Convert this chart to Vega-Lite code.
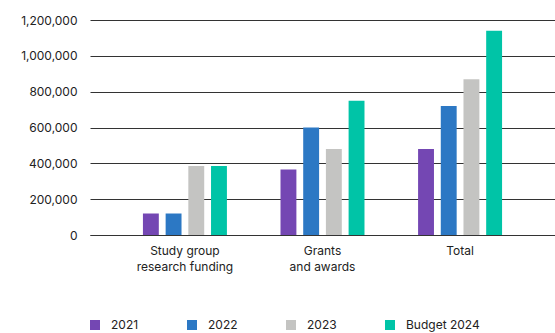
{
  "$schema": "https://vega.github.io/schema/vega-lite/v6.json",
  "width": 465,
  "height": 215,
  "autosize": {"type": "none"},
  "padding": {"left": 90, "top": 20, "right": 0, "bottom": 98},
  "background": "white",
  "config": {
    "font": "Inter",
    "view": {"stroke": null},
    "axis": {"labelFont": "Inter", "labelColor": "#222", "labelFontSize": 12}
  },
  "data": {
    "values": [
      {"category": "Study group research funding", "series": "2021", "value": 120000},
      {"category": "Study group research funding", "series": "2022", "value": 120000},
      {"category": "Study group research funding", "series": "2023", "value": 385000},
      {"category": "Study group research funding", "series": "Budget 2024", "value": 385000},
      {"category": "Grants and awards", "series": "2021", "value": 365000},
      {"category": "Grants and awards", "series": "2022", "value": 600000},
      {"category": "Grants and awards", "series": "2023", "value": 480000},
      {"category": "Grants and awards", "series": "Budget 2024", "value": 750000},
      {"category": "Total", "series": "2021", "value": 480000},
      {"category": "Total", "series": "2022", "value": 720000},
      {"category": "Total", "series": "2023", "value": 870000},
      {"category": "Total", "series": "Budget 2024", "value": 1140000}
    ]
  },
  "mark": {"type": "bar"},
  "encoding": {
    "x": {
      "field": "category",
      "type": "nominal",
      "sort": ["Study group research funding", "Grants and awards", "Total"],
      "scale": {"paddingInner": 0.34, "paddingOuter": 0.36},
      "axis": {
        "title": null,
        "labelAngle": 0,
        "ticks": false,
        "domainColor": "#333",
        "labelPadding": 10,
        "labelLineHeight": 16,
        "labelExpr": "datum.label == 'Study group research funding' ? ['Study group', 'research funding'] : datum.label == 'Grants and awards' ? ['Grants', 'and awards'] : datum.label"
      }
    },
    "xOffset": {
      "field": "series",
      "type": "nominal",
      "sort": ["2021", "2022", "2023", "Budget 2024"],
      "scale": {"paddingInner": 0.3, "paddingOuter": 0.15}
    },
    "y": {
      "field": "value",
      "type": "quantitative",
      "scale": {"domain": [0, 1200000]},
      "axis": {
        "title": null,
        "domain": false,
        "ticks": false,
        "labelPadding": 13,
        "values": [0, 200000, 400000, 600000, 800000, 1000000, 1200000],
        "format": ",.0f",
        "gridColor": "#333",
        "gridOpacity": 1
      }
    },
    "color": {
      "field": "series",
      "type": "nominal",
      "sort": ["2021", "2022", "2023", "Budget 2024"],
      "scale": {
        "domain": ["2021", "2022", "2023", "Budget 2024"],
        "range": ["#7447b3", "#2c78c4", "#c4c4c2", "#00c4a7"]
      },
      "legend": {
        "title": null,
        "orient": "none",
        "legendX": -1,
        "legendY": 299,
        "direction": "horizontal",
        "columns": 4,
        "symbolType": "square",
        "symbolSize": 100,
        "symbolStrokeWidth": 0,
        "symbolOpacity": 1,
        "labelFont": "Inter",
        "labelFontSize": 12,
        "labelColor": "#222",
        "labelOffset": 10,
        "columnPadding": 47
      }
    }
  }
}
